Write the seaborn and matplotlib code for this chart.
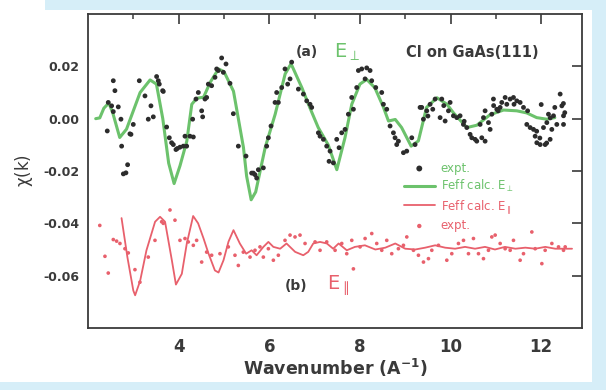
import matplotlib
matplotlib.use("Agg")
import matplotlib.pyplot as plt
import seaborn as sns
from matplotlib.patches import Rectangle
from matplotlib.ticker import FixedLocator

# ---------------- data ----------------
perp_calc_k = [2.17, 2.26, 2.35, 2.46, 2.55, 2.70, 2.85, 3.00, 3.15, 3.37, 3.51, 3.65,
               3.78, 3.90, 4.03, 4.18, 4.29, 4.40, 4.55, 4.70, 4.88, 5.00, 5.21, 5.43,
               5.50, 5.60, 5.70, 5.91, 6.13, 6.35, 6.48, 6.72, 6.90, 7.08, 7.30, 7.49,
               7.67, 7.82, 8.00, 8.15, 8.33, 8.52, 8.63, 8.78, 8.92, 9.13, 9.29, 9.47,
               9.70, 9.92, 10.06, 10.36, 10.58, 10.87, 11.17, 11.46, 11.68, 11.90,
               12.12, 12.30]
perp_calc_chi = [0.0, 0.0003, 0.0040, 0.0060, 0.0020, -0.0072, -0.0040, 0.0030, 0.0100,
                 0.0148, 0.0132, 0.0000, -0.0170, -0.0248, -0.0180, -0.0086, 0.0055,
                 0.0078, 0.0082, 0.0140, 0.0190, 0.0180, 0.0105, -0.0110, -0.0220,
                 -0.0310, -0.0280, -0.0110, 0.0017, 0.0171, 0.0210, 0.0118, 0.0040,
                 -0.0034, -0.0100, -0.0195, -0.0073, 0.0055, 0.0132, 0.0150, 0.0118,
                 0.0043, -0.0009, -0.0003, -0.0034, -0.0105, -0.0085, 0.0043, 0.0080,
                 0.0055, 0.0023, -0.0034, -0.0025, 0.0015, 0.0033, 0.0030, 0.0022,
                 0.0004, -0.0002, 0.0004]

perp_expt_k = [2.425, 2.447, 2.521, 2.558, 2.558, 2.594, 2.668, 2.727, 2.742, 2.780,
               2.837, 2.874, 2.925, 2.948, 2.999, 3.132, 3.257, 3.330, 3.389, 3.441,
               3.514, 3.551, 3.573, 3.647, 3.661, 3.735, 3.794, 3.845, 3.882, 3.941,
               3.970, 4.029, 4.103, 4.140, 4.177, 4.250, 4.309, 4.324, 4.383, 4.434,
               4.508, 4.530, 4.581, 4.618, 4.655, 4.728, 4.802, 4.839, 4.876, 4.949,
               4.986, 5.045, 5.133, 5.207, 5.317, 5.486, 5.611, 5.685,
               5.648, 5.722, 5.759, 5.869, 5.943, 5.980, 6.038, 6.127, 6.163, 6.200,
               6.274, 6.347, 6.406, 6.458, 6.494, 6.642, 6.752, 6.826, 6.899, 6.936,
               7.083, 7.120, 7.194, 7.267, 7.341, 7.319, 7.414, 7.488, 7.540, 7.598,
               7.672, 7.745, 7.819, 7.856, 7.929, 7.966, 8.040, 8.150, 8.224, 8.114,
               8.260, 8.349, 8.481, 8.518, 8.592, 8.665, 8.739, 8.775, 8.812, 8.849,
               8.960, 9.033, 9.144, 9.217, 9.327,
               9.364, 9.401, 9.475, 9.548, 9.607, 9.659, 9.806, 9.769, 9.880, 9.953,
               9.990, 10.063, 10.137, 10.210, 10.284, 10.358, 10.431, 10.468, 10.542,
               10.578, 10.689, 10.762, 10.652, 10.726, 10.762, 10.836, 10.873, 10.910,
               10.946, 11.020, 11.094, 11.130, 11.204, 11.241, 11.314, 11.388, 11.462,
               11.535, 11.609, 11.682, 11.756, 11.830, 11.866, 11.903, 11.977, 12.050,
               12.124, 12.160, 12.234, 12.271, 12.344, 12.418, 12.455, 12.492, 12.492,
               12.197, 12.087,
               12.49, 12.30, 12.00, 11.90, 11.97, 12.12, 12.20, 12.52, 10.30, 10.95,
               11.05, 11.40, 11.70, 9.85, 9.50]
perp_expt_chi = [-0.0047, 0.0062, 0.0049, 0.0027, 0.0145, 0.0107, 0.0045, -0.0002,
                 -0.0105, -0.0211, -0.0207, -0.0176, -0.0058, -0.0060, -0.0022, 0.0145,
                 0.0087, -0.0002, 0.0049, 0.0007, 0.0161, 0.0145, 0.0132, 0.0107,
                 0.0104, -0.0032, -0.0073, -0.0092, -0.0099, -0.0118, -0.0114, -0.0109,
                 -0.0105, -0.0067, -0.0105, -0.0067, -0.0002, -0.0070, 0.0075, 0.0100,
                 0.0030, 0.0007, 0.0075, 0.0081, 0.0132, 0.0126, 0.0158, 0.0190,
                 0.0184, 0.0232, 0.0177, 0.0209, 0.0135, 0.0019, -0.0105, -0.0143,
                 -0.0208, -0.0214,
                 -0.0208, -0.0227, -0.0195, -0.0188, -0.0105, -0.0073, -0.0028, 0.0062,
                 0.0100, 0.0062, 0.0119, 0.0190, 0.0132, 0.0152, 0.0216, 0.0113,
                 0.0094, 0.0068, 0.0055, 0.0043, -0.0054, -0.0067, -0.0079, -0.0105,
                 -0.0124, -0.0163, -0.0169, -0.0079, -0.0111, -0.0054, -0.0041, 0.0017,
                 0.0081, 0.0036, 0.0119, 0.0184, 0.0190, 0.0194, 0.0184, 0.0152,
                 0.0145, 0.0119, 0.0100, 0.0055, 0.0036, -0.0028, -0.0054, -0.0073,
                 -0.0099, -0.0086, -0.0130, -0.0124, -0.0073, -0.0099, 0.0043,
                 0.0043, -0.0002, 0.0030, 0.0055, 0.0036, 0.0075, 0.0075, 0.0004,
                 -0.0009, 0.0030, 0.0062, 0.0011, 0.0004, 0.0011, -0.0022, -0.0034,
                 -0.0060, -0.0073, -0.0079, -0.0086, -0.0073, -0.0086, -0.0022, 0.0004,
                 0.0030, -0.0015, -0.0041, 0.0017, 0.0075, 0.0036, 0.0043, 0.0062,
                 0.0081, 0.0055, 0.0075, 0.0081, 0.0068, 0.0062, 0.0043, -0.0022,
                 -0.0034, -0.0041, -0.0067, -0.0092, -0.0099, -0.0034, -0.0015, 0.0017,
                 -0.0041, 0.0011, -0.0022, 0.0094, 0.0049, 0.0011, -0.0022, -0.0079,
                 -0.0099,
                 0.0058, 0.0043, 0.0054, -0.0048, -0.0074, -0.0093, 0.0003, 0.0023,
                 -0.0010, 0.0050, 0.0030, 0.0055, 0.0030, 0.0050, 0.0010]

par_calc_k = [2.74, 2.87, 3.00, 3.04, 3.15, 3.29, 3.48, 3.59, 3.70, 3.85, 3.94, 4.07,
              4.18, 4.32, 4.43, 4.55, 4.66, 4.80, 4.88, 4.99, 5.10, 5.21, 5.35, 5.49,
              5.61, 5.72, 5.87, 5.98, 6.09, 6.24, 6.38, 6.57, 6.75, 6.86, 6.97, 7.12,
              7.27, 7.41, 7.53, 7.71, 7.89, 8.11, 8.34, 8.56, 8.78, 9.00, 9.22, 9.44,
              9.66, 9.88, 10.10, 10.32, 10.54, 10.76, 10.98, 11.20, 11.43, 11.65,
              11.87, 12.09, 12.31, 12.53, 12.68]
par_calc_chi = [-0.0380, -0.0530, -0.0657, -0.0675, -0.0620, -0.0503, -0.0394, -0.0375,
                -0.0394, -0.0541, -0.0634, -0.0593, -0.0477, -0.0372, -0.0400, -0.0458,
                -0.0516, -0.0580, -0.0588, -0.0541, -0.0470, -0.0426, -0.0477, -0.0516,
                -0.0503, -0.0522, -0.0490, -0.0471, -0.0490, -0.0497, -0.0477, -0.0509,
                -0.0522, -0.0509, -0.0477, -0.0471, -0.0477, -0.0497, -0.0477, -0.0503,
                -0.0490, -0.0484, -0.0500, -0.0493, -0.0477, -0.0497, -0.0500, -0.0493,
                -0.0484, -0.0493, -0.0497, -0.0490, -0.0497, -0.0490, -0.0500, -0.0490,
                -0.0497, -0.0493, -0.0497, -0.0490, -0.0497, -0.0497, -0.0497]

par_expt_k = [2.26, 2.374, 2.447, 2.558, 2.631, 2.705, 2.815, 2.889, 3.036, 3.146, 3.330,
              3.478, 3.625, 3.661, 3.809, 3.919, 4.029, 4.140, 4.213, 4.324, 4.397,
              4.508, 4.618, 4.728, 4.912, 5.096, 5.243, 5.317, 5.427, 5.575, 5.685,
              5.795, 5.869, 5.980, 6.090, 6.200, 6.347, 6.458, 6.568, 6.678, 6.789,
              7.010, 7.120, 7.267, 7.452, 7.599, 7.709, 7.820, 7.856, 8.003, 8.114,
              8.261, 8.371, 8.482, 8.592, 8.702, 8.849, 8.960, 9.034, 9.181, 9.291,
              9.402, 9.512, 9.586, 9.733, 9.917, 10.027, 10.174, 10.285, 10.395,
              10.505, 10.616, 10.726, 10.836, 10.910, 10.984, 11.094, 11.204, 11.315,
              11.388, 11.535, 11.609, 11.793, 11.867, 12.014, 12.087, 12.235, 12.382,
              12.492, 12.529]
par_expt_chi = [-0.0408, -0.0526, -0.0590, -0.0462, -0.0468, -0.0477, -0.0497, -0.0513,
                -0.0577, -0.0625, -0.0529, -0.0465, -0.0394, -0.0400, -0.0349, -0.0388,
                -0.0465, -0.0458, -0.0471, -0.0484, -0.0465, -0.0548, -0.0510, -0.0522,
                -0.0516, -0.0490, -0.0522, -0.0561, -0.0510, -0.0529, -0.0503, -0.0490,
                -0.0529, -0.0497, -0.0541, -0.0522, -0.0465, -0.0445, -0.0452, -0.0445,
                -0.0477, -0.0471, -0.0503, -0.0471, -0.0503, -0.0477, -0.0516, -0.0465,
                -0.0574, -0.0490, -0.0458, -0.0439, -0.0477, -0.0503, -0.0465, -0.0516,
                -0.0497, -0.0484, -0.0452, -0.0503, -0.0522, -0.0548, -0.0535, -0.0503,
                -0.0484, -0.0541, -0.0516, -0.0477, -0.0465, -0.0516, -0.0458, -0.0516,
                -0.0535, -0.0503, -0.0452, -0.0445, -0.0477, -0.0497, -0.0503, -0.0465,
                -0.0541, -0.0516, -0.0433, -0.0497, -0.0554, -0.0503, -0.0477, -0.0490,
                -0.0503, -0.0490]

x_major = [4, 6, 8, 10, 12]
x_minor = [3, 5, 7, 9, 11]
y_ticks = [-0.06, -0.04, -0.02, 0.00, 0.02]

# ---------------- style ----------------
GREEN = "#6cc26c"
RED = "#e8606c"
DARK = "#3a3a3a"
BLUE_FRAME = "#d6eef8"

sns.set_style("white")
plt.rcParams["font.family"] = ["DejaVu Sans"]
plt.rcParams["axes.unicode_minus"] = False
plt.rcParams["mathtext.default"] = "regular"

fig = plt.figure(figsize=(6.06, 3.90), dpi=100, facecolor="white")
for (x0, y0, w, h) in [(45 / 606, 1 - 10 / 390, 1, 10 / 390),
                       (592 / 606, 0, 14 / 606, 1),
                       (0, 0, 1, 8 / 390)]:
    fig.patches.append(Rectangle((x0, y0), w, h, transform=fig.transFigure,
                                 facecolor=BLUE_FRAME, edgecolor="none", zorder=0))

ax = fig.add_axes([88 / 606, 62 / 390, 494 / 606, 314 / 390])
ax.set_facecolor("white")

sns.lineplot(x=perp_calc_k, y=perp_calc_chi, ax=ax, color=GREEN, lw=2.2,
             label="Feff calc. E$_{\\perp}$", zorder=2)
sns.scatterplot(x=perp_expt_k, y=perp_expt_chi, ax=ax, color="#2c2c2c", s=12,
                edgecolor="none", label="expt.", zorder=3)
sns.lineplot(x=par_calc_k, y=par_calc_chi, ax=ax, color=RED, lw=1.3,
             label="Feff calc. E$_{\\parallel}$", zorder=2)
sns.scatterplot(x=par_expt_k, y=par_expt_chi, ax=ax, color=RED, s=7,
                edgecolor="none", label="expt.", zorder=3)

ax.set_xlim(2.0, 12.9)
ax.set_ylim(-0.08, 0.04)
ax.xaxis.set_major_locator(FixedLocator(x_major))
ax.xaxis.set_minor_locator(FixedLocator(x_minor))
ax.set_yticks(y_ticks)
ax.set_yticklabels([f"{v:.2f}" for v in y_ticks])

for sp in ax.spines.values():
    sp.set_visible(True)
    sp.set_color(DARK)
    sp.set_linewidth(1.3)

ax.tick_params(which="major", direction="in", length=7, width=1.2, top=True,
               right=True, colors=DARK)
ax.tick_params(which="minor", direction="in", length=3.5, width=1.1, top=True,
               right=True, colors=DARK)
ax.tick_params(axis="x", labelsize=12, pad=7)
ax.tick_params(axis="y", labelsize=9, pad=6)
for lab in ax.get_xticklabels() + ax.get_yticklabels():
    lab.set_fontweight("bold")
    lab.set_color(DARK)

ax.set_xlabel("Wavenumber (A$^{-1}$)", fontsize=12.5, fontweight="bold",
              color=DARK, labelpad=1)
ax.set_ylabel("$\\chi$(k)", fontsize=12, color=DARK, labelpad=6)

# annotations
ax.text(6.83, 0.0254, "(a)", fontsize=10, fontweight="bold", color=DARK,
        ha="center", va="center")
ax.text(7.72, 0.0254, "E$_{\\perp}$", fontsize=14, color=GREEN,
        ha="center", va="center")
ax.text(10.47, 0.0254, "Cl on GaAs(111)", fontsize=10.5, fontweight="bold",
        color=DARK, ha="center", va="center")
ax.text(6.58, -0.0639, "(b)", fontsize=10, fontweight="bold", color=DARK,
        ha="center", va="center")
ax.text(7.52, -0.0639, "E$_{\\parallel}$", fontsize=14, color=RED,
        ha="center", va="center")

handles, labels = ax.get_legend_handles_labels()
order = [1, 0, 2, 3]
leg = ax.legend([handles[i] for i in order], [labels[i] for i in order],
                loc="upper left", bbox_to_anchor=(0.63, 0.545), frameon=False,
                fontsize=8.5, labelcolor=[GREEN, GREEN, RED, RED],
                handlelength=2.6, handletextpad=0.5, labelspacing=0.3,
                borderaxespad=0, scatterpoints=1)
lh = leg.legend_handles
lh[0].set_sizes([18])
lh[0].set_facecolor("#2c2c2c")
lh[3].set_sizes([10])
lh[3].set_facecolor(RED)

fig.savefig("out.png", dpi=100, facecolor=fig.get_facecolor())
